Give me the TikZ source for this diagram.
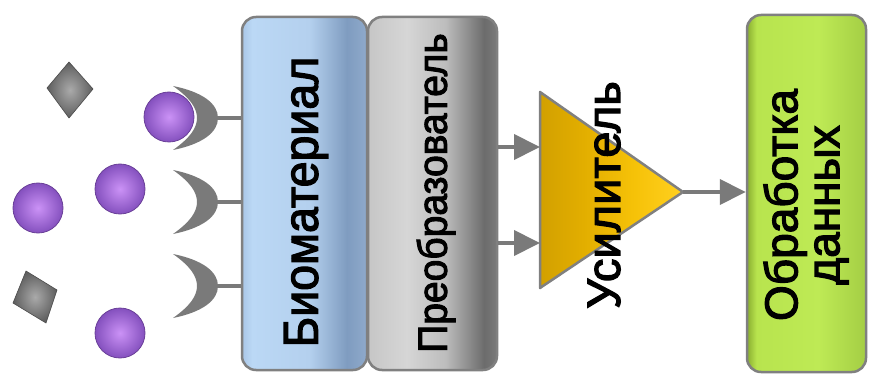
\documentclass[tikz,border=0pt]{standalone}
\usepackage{fontspec}
\usepackage{graphicx}
\setmainfont{Liberation Sans}
\newfontfamily\medfont{Liberation Sans}[FakeBold=2.6]
\usetikzlibrary{arrows.meta}
\definecolor{edgegray}{HTML}{808080}
\definecolor{lineGray}{HTML}{7A7A7A}
\definecolor{ballIn}{HTML}{CB92F6}
\definecolor{ballOut}{HTML}{8450BE}
\definecolor{gemIn}{HTML}{AAAAAA}
\definecolor{gemOut}{HTML}{5E5E5E}
\pgfdeclarehorizontalshading{bioshade}{100bp}{
  color(0bp)=(rgb,255:red,169;green,198;blue,230);
  color(25bp)=(rgb,255:red,169;green,198;blue,230);
  color(29bp)=(rgb,255:red,187;green,216;blue,245);
  color(52bp)=(rgb,255:red,180;green,208;blue,238);
  color(67bp)=(rgb,255:red,127;green,156;blue,192);
  color(75bp)=(rgb,255:red,143;green,170;blue,203);
  color(100bp)=(rgb,255:red,143;green,170;blue,203)}
\pgfdeclarehorizontalshading{convshade}{100bp}{
  color(0bp)=(rgb,255:red,198;green,198;blue,198);
  color(25bp)=(rgb,255:red,198;green,198;blue,198);
  color(40bp)=(rgb,255:red,214;green,214;blue,214);
  color(55bp)=(rgb,255:red,189;green,189;blue,189);
  color(70bp)=(rgb,255:red,108;green,108;blue,108);
  color(75bp)=(rgb,255:red,122;green,122;blue,122);
  color(100bp)=(rgb,255:red,122;green,122;blue,122)}
\pgfdeclarehorizontalshading{grnshade}{100bp}{
  color(0bp)=(rgb,255:red,138;green,174;blue,48);
  color(25bp)=(rgb,255:red,138;green,174;blue,48);
  color(29bp)=(rgb,255:red,184;green,228;blue,78);
  color(55bp)=(rgb,255:red,190;green,234;blue,85);
  color(75bp)=(rgb,255:red,164;green,206;blue,68);
  color(100bp)=(rgb,255:red,164;green,206;blue,68)}
\pgfdeclarehorizontalshading{goldshade}{100bp}{
  color(0bp)=(rgb,255:red,210;green,160;blue,0);
  color(25bp)=(rgb,255:red,210;green,160;blue,0);
  color(40bp)=(rgb,255:red,226;green,174;blue,0);
  color(58bp)=(rgb,255:red,246;green,194;blue,8);
  color(75bp)=(rgb,255:red,255;green,208;blue,32);
  color(100bp)=(rgb,255:red,255;green,208;blue,32)}
\newcommand{\vstretch}[2]{\scalebox{1}[#1]{#2}}
\tikzset{
  blockbox/.style={draw=edgegray, line width=2.5pt, rounded corners=14pt,
    minimum height=353pt, inner sep=0pt},
  blocktext/.style={rotate=90, font=\medfont\fontsize{46.5}{48}\selectfont, text=black, inner sep=0pt},
  ball/.style={circle, draw=ballOut!80!black, line width=0.8pt, inner color=ballIn, outer color=ballOut,
    minimum size=50pt, inner sep=0pt},
  gem/.style={draw=gemOut!80!black, line width=0.6pt, inner color=gemIn, outer color=gemOut},
  receptor/.style={fill=lineGray, draw=none},
  stem/.style={draw=lineGray, line width=4pt},
  flow/.style={draw=lineGray, line width=4pt, -{Triangle[length=26pt, width=25pt]}},
}
\begin{document}
\begin{tikzpicture}[x=1pt, y=-1pt]
\useasboundingbox (0,0) rectangle (869,374);

% blocks
\node[blockbox, minimum width=125pt, shading=bioshade] (bio) at (304.5,193.5) {};
\node[blockbox, minimum width=129pt, shading=convshade] (conv) at (432.5,193.5) {};
\node[blockbox, minimum width=119pt, minimum height=357pt, shading=grnshade] (proc) at (806.5,193.5) {};

\node[blocktext] (biotext) at (306,202) {\vstretch{1.05}{Биоматериал}};
\node[blocktext, font=\medfont\fontsize{39}{41}\selectfont] (convtext) at (436,193) {\vstretch{1.05}{Преобразователь}};
\node[blocktext, align=center, font=\medfont\fontsize{46}{42}\selectfont] (proctext) at (806,205) {Обработка\\данных};

% amplifier triangle
\coordinate (ampTop) at (540,92);
\coordinate (ampBot) at (540,288);
\coordinate (ampTip) at (683,192);
\coordinate (ampIn1) at (540,147);
\coordinate (ampIn2) at (540,243);
\path[draw=edgegray, line width=2.5pt, line join=round, shading=goldshade]
  (ampTop) -- (ampTip) -- (ampBot) -- cycle;
\node[blocktext, font=\medfont\fontsize{47}{50}\selectfont] (amptext) at (604,195) {Усилитель};

% arrows
\draw[flow] (conv.east |- ampIn1) -- (ampIn1);
\draw[flow] (conv.east |- ampIn2) -- (ampIn2);
\draw[flow] (ampTip) -- (proc.west |- ampTip);

% receptors
\foreach \yc/\nm in {118/r1, 202/r2, 286/r3} {
  \path[receptor] (173,\yc-32) .. controls (203,\yc-26) and (218,\yc-14) .. (218,\yc)
     .. controls (218,\yc+14) and (203,\yc+26) .. (173,\yc+32)
     .. controls (190,\yc+20) and (197,\yc+10) .. (197,\yc)
     .. controls (197,\yc-10) and (190,\yc-20) .. (173,\yc-32) -- cycle;
  \coordinate (\nm) at (216,\yc);
}
\draw[stem] (r1) -- (bio.west |- r1);
\draw[stem] (r2) -- (bio.west |- r2);
\draw[stem] (r3) -- (bio.west |- r3);

% analytes
\node[ball] (b1) at (169,117) {};
\node[ball] (b2) at (120,189) {};
\node[ball] (b3) at (38,208) {};
\node[ball] (b4) at (120,333) {};
\path[gem] (69,62) -- (93,89) -- (69,118) -- (47,88) -- cycle;
\path[gem] (26,271) -- (57,290) -- (46,323) -- (13,303) -- cycle;
\end{tikzpicture}
\end{document}
